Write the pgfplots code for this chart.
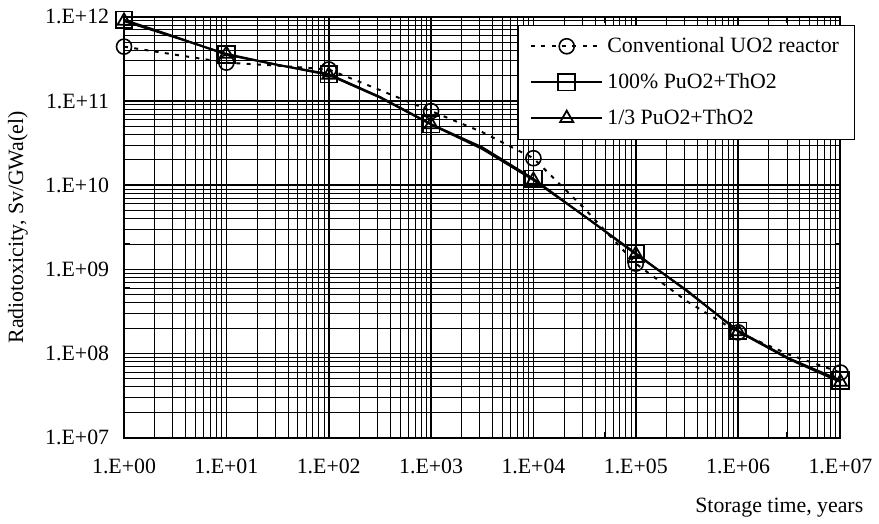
\documentclass[border=0pt]{standalone}
\usepackage{fontspec}
\setmainfont{Liberation Serif}
\usepackage{pgfplots}
\pgfplotsset{compat=1.18}

\begin{document}
\begin{tikzpicture}
\begin{axis}[
    name=ax,
    scale only axis,
    width=361pt, height=212pt,
    xmode=log, ymode=log,
    xmin=1, xmax=1e7, ymin=1e7, ymax=1e12,
    xtick={1,1e1,1e2,1e3,1e4,1e5,1e6,1e7},
    xticklabels={1.E+00,1.E+01,1.E+02,1.E+03,1.E+04,1.E+05,1.E+06,1.E+07},
    ytick={1e7,1e8,1e9,1e10,1e11,1e12},
    yticklabels={1.E+07,1.E+08,1.E+09,1.E+10,1.E+11,1.E+12},
    minor xtick={2,3,4,5,6,7,8,9,20,30,40,50,60,70,80,90,
        200,300,400,500,600,700,800,900,2e3,3e3,4e3,5e3,6e3,7e3,8e3,9e3,
        2e4,3e4,4e4,5e4,6e4,7e4,8e4,9e4,2e5,3e5,4e5,5e5,6e5,7e5,8e5,9e5,
        2e6,3e6,4e6,5e6,6e6,7e6,8e6,9e6},
    minor ytick={2e7,3e7,4e7,5e7,6e7,7e7,8e7,9e7,2e8,3e8,4e8,5e8,6e8,7e8,8e8,9e8,
        2e9,3e9,4e9,5e9,6e9,7e9,8e9,9e9,2e10,3e10,4e10,5e10,6e10,7e10,8e10,9e10,
        2e11,3e11,4e11,5e11,6e11,7e11,8e11,9e11},
    grid=both,
    major grid style={black, line width=0.8pt},
    minor grid style={black, line width=0.45pt},
    axis line style={black, line width=1pt},
    tick align=inside,
    tick style={black, line width=0.5pt},
    ticklabel style={font=\fontsize{11}{13}\selectfont},
    xticklabel style={yshift=-7pt},
    yticklabel style={xshift=-4pt},
    xlabel={Storage time, years},
    xlabel style={at={(rel axis cs:1,0)}, anchor=north east, xshift=15pt, yshift=-27pt,
        font=\fontsize{11}{13}\selectfont},
    ylabel={Radiotoxicity, Sv/GWa(el)},
    ylabel style={at={(axis description cs:-0.148,0.5)}, anchor=center,
        font=\fontsize{11}{13}\selectfont},
    legend style={at={(rel axis cs:1,1)}, anchor=north east, xshift=7.5pt, yshift=-4pt,
        draw=black, line width=0.5pt, fill=white, font=\fontsize{11}{13}\selectfont,
        row sep=5pt, inner sep=4pt, inner xsep=6pt},
    legend cell align=left,
    legend image code/.code={
        \draw[mark repeat=2, mark phase=2] plot coordinates {(0pt,0pt) (18pt,0pt) (36pt,0pt)};},
    mark repeat=2, mark phase=1,
]
% Conventional UO2 reactor
\addplot[black, line width=1pt, dash pattern=on 2pt off 3.2pt,
    mark=o, mark size=3.8pt, mark options={solid, fill=white, line width=0.8pt}]
coordinates {
    (1,4.43e11) (3.162,3.55e11) (10,2.86e11) (31.62,2.63e11) (100,2.37e11)
    (316.2,1.35e11) (1e3,7.59e10) (3162,4.27e10) (1e4,2.09e10) (31620,5.25e9)
    (1e5,1.17e9) (316200,4.17e8) (1e6,1.78e8) (3162000,9.68e7) (1e7,5.93e7)
};
% 100% PuO2+ThO2
\addplot[black, line width=1pt,
    mark=square, mark size=4.2pt, mark options={solid, fill=white, line width=0.9pt}]
coordinates {
    (1,9.23e11) (3.162,5.81e11) (10,3.55e11) (31.62,2.69e11) (100,2.09e11)
    (316.2,1.12e11) (1e3,5.31e10) (3162,2.82e10) (1e4,1.19e10) (31620,4.27e9)
    (1e5,1.55e9) (316200,5.50e8) (1e6,1.86e8) (3162000,8.71e7) (1e7,4.79e7)
};
% 1/3 PuO2+ThO2
\addplot[black, line width=1pt,
    mark=triangle, mark size=3.8pt, mark options={solid, fill=white, line width=0.9pt}]
coordinates {
    (1,8.91e11) (3.162,5.69e11) (10,3.63e11) (31.62,2.69e11) (100,2.04e11)
    (316.2,1.10e11) (1e3,5.25e10) (3162,2.69e10) (1e4,1.15e10) (31620,4.27e9)
    (1e5,1.51e9) (316200,5.62e8) (1e6,1.82e8) (3162000,8.51e7) (1e7,4.57e7)
};
\legend{Conventional UO2 reactor, 100\% PuO2+ThO2, 1/3 PuO2+ThO2}
\end{axis}
\path (ax.south west) ++(-62.5pt,-41.5pt) rectangle ++(439.5pt,262pt);
\end{tikzpicture}
\end{document}
